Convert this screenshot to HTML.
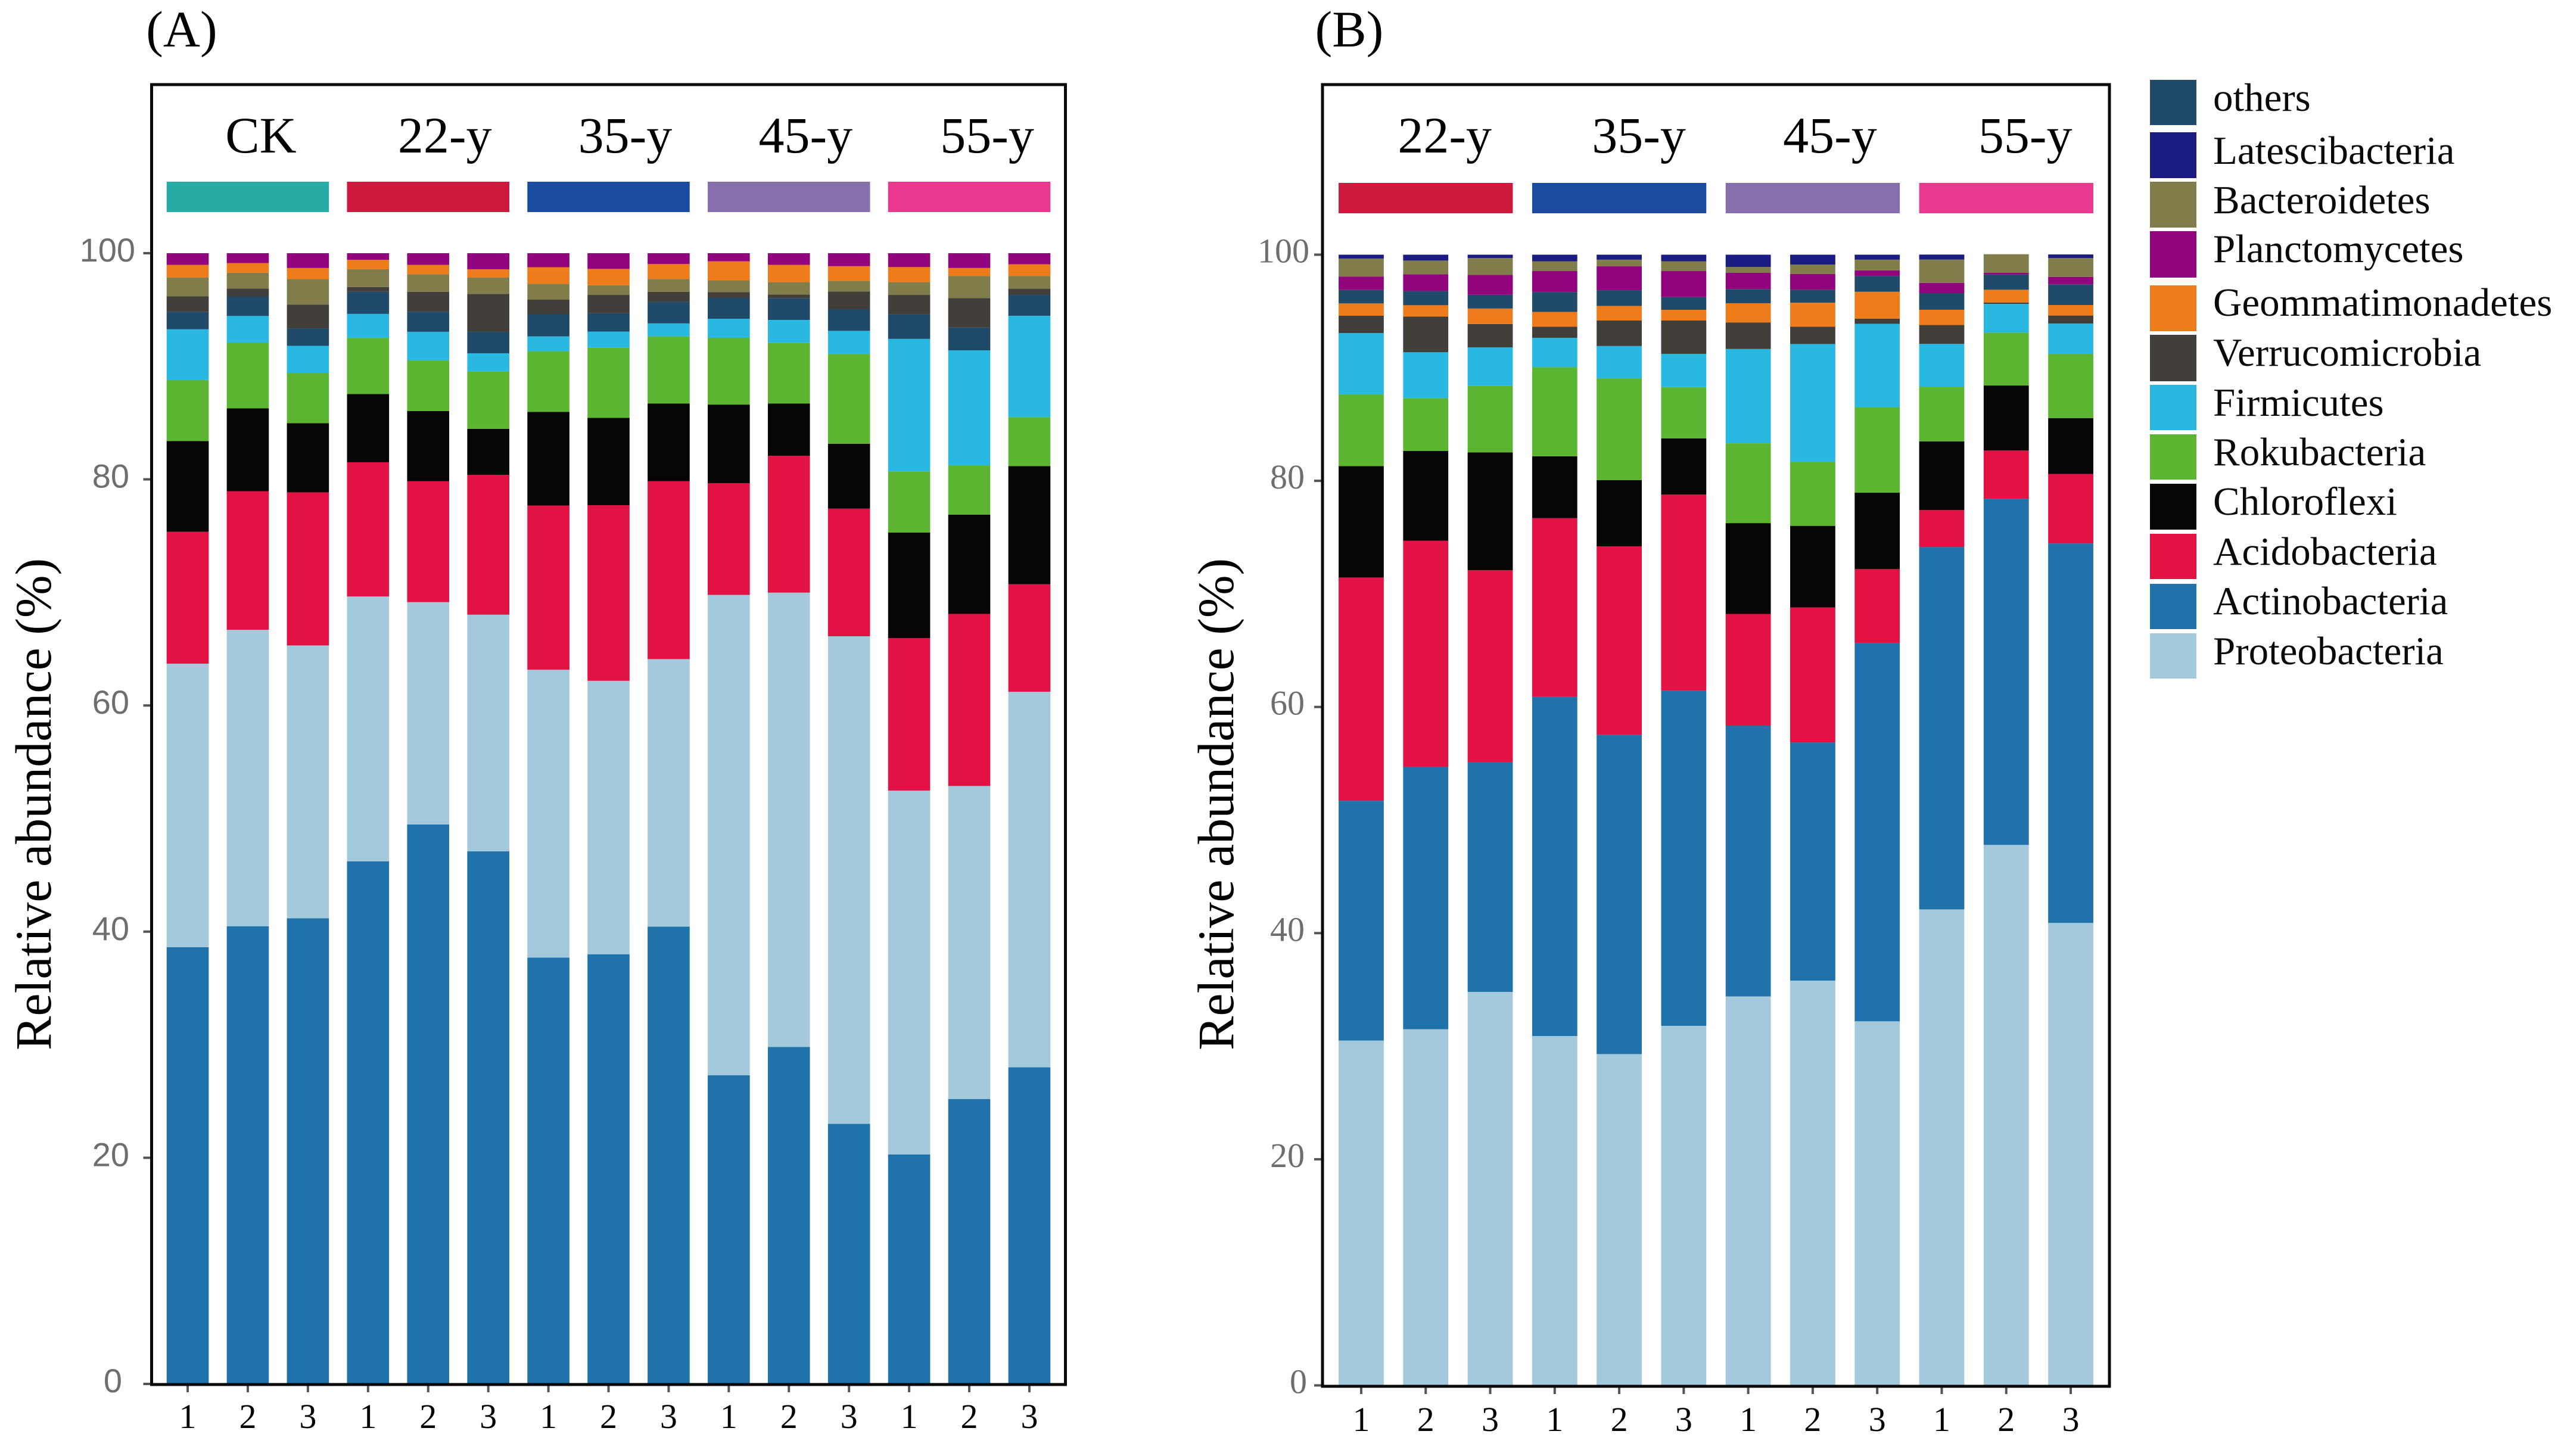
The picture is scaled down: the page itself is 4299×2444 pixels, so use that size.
<!DOCTYPE html>
<html lang="en">
<head>
<meta charset="utf-8">
<title>Relative abundance of bacterial phyla</title>
<style>
html,body{margin:0;padding:0;background:#fff;}
svg{display:block;}
text{font-family:"Liberation Serif",serif;}
</style>
</head>
<body>
<svg id="fig" xmlns="http://www.w3.org/2000/svg" width="4299" height="2444" viewBox="0 0 4299 2444">
  <rect x="0" y="0" width="4299" height="2444" fill="#ffffff"/>
  <text x="305" y="78" font-size="86" text-anchor="middle" fill="#000">(A)</text>
  <text x="2265" y="78" font-size="86" text-anchor="middle" fill="#000">(B)</text>
  <text transform="translate(85,1763) rotate(-90)" font-size="86" fill="#000">Relative abundance (%)</text>
  <text transform="translate(2070,1763) rotate(-90)" font-size="86" fill="#000">Relative abundance (%)</text>
  <g id="panelA"></g>
  <g id="panelB"></g>
  <g font-size="67" fill="#0a0a0a">
    <g><rect x="3609" y="134" width="78" height="76" fill="#204a69"/><text x="3715" y="186">others</text></g>
    <g><rect x="3609" y="222" width="78" height="77" fill="#1b1c82"/><text x="3715" y="275">Latescibacteria</text></g>
    <g><rect x="3609" y="305" width="78" height="77" fill="#807d4a"/><text x="3715" y="358">Bacteroidetes</text></g>
    <g><rect x="3609" y="388" width="78" height="78" fill="#91047e"/><text x="3715" y="440">Planctomycetes</text></g>
    <g><rect x="3609" y="479" width="78" height="77" fill="#ef7c1a"/><text x="3715" y="530">Geommatimonadetes</text></g>
    <g><rect x="3609" y="562" width="78" height="78" fill="#423e39"/><text x="3715" y="614">Verrucomicrobia</text></g>
    <g><rect x="3609" y="646" width="78" height="76" fill="#29b8e2"/><text x="3715" y="698">Firmicutes</text></g>
    <g><rect x="3609" y="729" width="78" height="76" fill="#5cb531"/><text x="3715" y="781">Rokubacteria</text></g>
    <g><rect x="3609" y="812" width="78" height="77" fill="#070604"/><text x="3715" y="864">Chloroflexi</text></g>
    <g><rect x="3609" y="896" width="78" height="76" fill="#e21344"/><text x="3715" y="948">Acidobacteria</text></g>
    <g><rect x="3609" y="980" width="78" height="76" fill="#1f72aa"/><text x="3715" y="1031">Actinobacteria</text></g>
    <g><rect x="3609" y="1063" width="78" height="76" fill="#a4c9dc"/><text x="3715" y="1115">Proteobacteria</text></g>
  </g>
</svg>
<script>
// Panel A (bottom of stack first)
const samplesA = ["1","2","3","1","2","3","1","2","3","1","2","3","1","2","3"];
const groupsA = ["CK","22-y","35-y","45-y","55-y"];
const actinoA = [38.63,40.48,41.18,46.22,49.48,47.10,37.70,38.00,40.44,27.30,29.80,23.00,20.30,25.20,28.00];
const proteoA = [25.07,26.21,24.13,23.42,19.66,20.93,25.46,24.18,23.66,42.48,40.18,43.12,32.17,27.68,33.21];
const acidoA = [11.66,12.26,13.54,11.87,10.69,12.37,14.52,15.53,15.73,9.88,12.10,11.29,13.48,15.22,9.51];
const chloroA = [8.03,7.33,6.12,6.04,6.21,4.06,8.29,7.73,6.88,6.95,4.63,5.74,9.34,8.77,10.45];
const rokuA = [5.40,5.79,4.44,4.96,4.48,5.06,5.36,6.19,5.93,5.91,5.35,7.94,5.41,4.37,4.33];
const firmiA = [4.48,2.38,2.40,2.12,2.53,1.63,1.31,1.44,1.15,1.68,2.04,2.04,11.72,10.17,8.96];
const othersA = [1.55,1.73,1.53,1.96,1.77,1.90,1.96,1.63,1.92,1.85,1.93,1.89,2.16,2.02,1.85];
const verruA = [1.36,0.70,2.12,0.42,1.77,3.35,1.29,1.61,0.87,0.51,0.32,1.58,1.73,2.60,0.55];
const bacteA = [1.68,1.39,2.25,1.57,1.55,1.46,1.40,0.85,1.14,1.04,1.09,0.96,1.13,1.96,1.13];
const geomA = [1.11,0.86,0.98,0.83,0.83,0.72,1.47,1.45,1.32,1.68,1.53,1.29,1.33,0.70,1.03];
const planctA = [1.03,0.87,1.31,0.59,1.03,1.42,1.24,1.39,0.96,0.72,1.03,1.15,1.23,1.31,0.98];

// Panel B (bottom of stack first)
const samplesB = ["1","2","3","1","2","3","1","2","3","1","2","3"];
const groupsB = ["22-y","35-y","45-y","55-y"];
const proteoB = [30.50,31.50,34.80,30.90,29.30,31.80,34.40,35.80,32.20,42.10,47.80,40.90];
const actinoB = [21.20,23.19,20.29,30.00,28.24,29.64,23.95,21.07,33.44,32.05,30.62,33.56];
const acidoB = [19.75,20.02,17.00,15.80,16.67,17.34,9.88,11.93,6.55,3.26,4.26,6.15];
const chloroB = [9.85,7.93,10.42,5.47,5.85,4.97,8.03,7.22,6.76,6.08,5.75,4.94];
const rokuB = [6.35,4.67,5.88,7.87,9.00,4.54,7.06,5.65,7.56,4.84,4.68,5.68];
const firmiB = [5.42,4.06,3.41,2.60,2.86,2.94,8.34,10.43,7.38,3.78,2.54,2.68];
const verruB = [1.53,3.15,2.07,0.99,2.26,2.95,2.35,1.53,0.45,1.67,0.12,0.71];
const geomB = [1.09,1.01,1.37,1.31,1.29,0.94,1.70,2.12,2.38,1.35,1.13,0.93];
const othersB = [1.19,1.25,1.21,1.76,1.39,1.13,1.25,1.15,1.39,1.47,1.35,1.83];
const planctB = [1.17,1.49,1.76,1.85,2.11,2.30,1.45,1.39,0.50,0.91,0.16,0.65];
const bacteB = [1.61,1.21,1.49,0.87,0.59,0.87,0.50,0.84,0.95,2.06,1.63,1.67];
const lateB = [0.34,0.52,0.30,0.58,0.44,0.58,1.09,0.87,0.44,0.44,0.00,0.32];

const yTickValues = [0,20,40,60,80,100];
const yTickLabels = ["0","20","40","60","80","100"];

const NS = "http://www.w3.org/2000/svg";
const phylumColor = {
  others:"#204a69", latescibacteria:"#1b1c82", bacteroidetes:"#807d4a", planctomycetes:"#91047e",
  geommatimonadetes:"#ef7c1a", verrucomicrobia:"#423e39", firmicutes:"#29b8e2", rokubacteria:"#5cb531",
  chloroflexi:"#070604", acidobacteria:"#e21344", actinobacteria:"#1f72aa", proteobacteria:"#a4c9dc"
};
const groupColor = {"CK":"#26aca4","22-y":"#cd1a3c","35-y":"#1c4c9f","45-y":"#876fae","55-y":"#e9398e"};

function drawPanel(cfg){
  const root = document.getElementById(cfg.id);
  const unit = cfg.frameW / (cfg.samples.length + 0.2);
  const xPos = function(i){ return cfg.frameX + unit * (i + 0.6); };
  const yPos = function(v){ return cfg.zeroY - v * cfg.pxPerUnit; };
  const barW = unit * 0.7;

  // stacked bars
  for (let i = 0; i < cfg.samples.length; i++) {
    let base = 0;
    for (const s of cfg.stack) {
      const value = s.values[i];
      const r = document.createElementNS(NS, "rect");
      r.setAttribute("x", (xPos(i) - barW / 2).toFixed(2));
      r.setAttribute("y", yPos(base + value).toFixed(2));
      r.setAttribute("width", barW.toFixed(2));
      r.setAttribute("height", (value * cfg.pxPerUnit).toFixed(2));
      r.setAttribute("fill", phylumColor[s.name]);
      
      
      root.appendChild(r);
      base += value;
    }
  }

  // group strips and labels
  cfg.groups.forEach(function(g, k){
    const first = k * 3;
    const last = first + 2;
    const strip = document.createElementNS(NS, "rect");
    strip.setAttribute("x", (xPos(first) - barW / 2).toFixed(2));
    strip.setAttribute("y", cfg.stripY);
    strip.setAttribute("width", (xPos(last) - xPos(first) + barW).toFixed(2));
    strip.setAttribute("height", 51);
    strip.setAttribute("fill", groupColor[g]);
    
    
    root.appendChild(strip);
    const label = document.createElementNS(NS, "text");
    label.setAttribute("x", (xPos(first + 1) + cfg.groupLabelDx[k]).toFixed(2));
    label.setAttribute("y", 256);
    label.setAttribute("font-size", 86);
    label.setAttribute("text-anchor", "middle");
    label.setAttribute("fill", "#000");
    
    
    label.textContent = g;
    root.appendChild(label);
  });

  // y ticks
  yTickValues.forEach(function(v, k){
    const tick = document.createElementNS(NS, "rect");
    tick.setAttribute("x", cfg.frameX - 14);
    tick.setAttribute("y", (yPos(v) - 2).toFixed(2));
    tick.setAttribute("width", 14);
    tick.setAttribute("height", 4);
    tick.setAttribute("fill", "#555");
    
    
    root.appendChild(tick);
    const t = document.createElementNS(NS, "text");
    const shift = v === 100 ? cfg.hundredDx : (v === 0 ? cfg.zeroDx : 0);
    t.setAttribute("x", cfg.tickRight + shift);
    t.setAttribute("y", (yPos(v) + cfg.tickBaseline).toFixed(2));
    t.setAttribute("font-size", cfg.tickSize);
    t.setAttribute("text-anchor", "end");
    t.setAttribute("fill", "#6e6e6e");
    t.setAttribute("style", "font-family:" + cfg.tickFont);
    
    
    t.textContent = yTickLabels[k];
    root.appendChild(t);
  });

  // x ticks
  cfg.samples.forEach(function(s, i){
    const tick = document.createElementNS(NS, "rect");
    tick.setAttribute("x", (xPos(i) - 2).toFixed(2));
    tick.setAttribute("y", cfg.frameY + cfg.frameH);
    tick.setAttribute("width", 4);
    tick.setAttribute("height", 13);
    tick.setAttribute("fill", "#555");
    
    
    root.appendChild(tick);
    const t = document.createElementNS(NS, "text");
    t.setAttribute("x", xPos(i).toFixed(2));
    t.setAttribute("y", cfg.xLabelY);
    t.setAttribute("font-size", 58);
    t.setAttribute("text-anchor", "middle");
    t.setAttribute("fill", "#000");
    
    
    t.textContent = s;
    root.appendChild(t);
  });

  // frame
  const frame = document.createElementNS(NS, "rect");
  frame.setAttribute("x", cfg.frameX);
  frame.setAttribute("y", cfg.frameY);
  frame.setAttribute("width", cfg.frameW);
  frame.setAttribute("height", cfg.frameH);
  frame.setAttribute("fill", "none");
  frame.setAttribute("stroke", "#0a0a0a");
  frame.setAttribute("stroke-width", 5);
  
  
  root.appendChild(frame);
}

drawPanel({
  id:"panelA", samples:samplesA, groups:groupsA,
  frameX:254.5, frameY:142, frameW:1534, frameH:2182,
  zeroY:2323, pxPerUnit:18.98, stripY:305, xLabelY:2397,
  groupLabelDx:[22,28,28,28,30],
  tickRight:217, hundredDx:10, zeroDx:-12, tickBaseline:14, tickSize:56,
  tickFont:'"Liberation Sans",sans-serif',
  stack:[
    {name:"actinobacteria",values:actinoA},{name:"proteobacteria",values:proteoA},{name:"acidobacteria",values:acidoA},
    {name:"chloroflexi",values:chloroA},{name:"rokubacteria",values:rokuA},{name:"firmicutes",values:firmiA},
    {name:"others",values:othersA},{name:"verrucomicrobia",values:verruA},{name:"bacteroidetes",values:bacteA},
    {name:"geommatimonadetes",values:geomA},{name:"planctomycetes",values:planctA}
  ]
});

drawPanel({
  id:"panelB", samples:samplesB, groups:groupsB,
  frameX:2220, frameY:142, frameW:1321, frameH:2185,
  zeroY:2325.5, pxPerUnit:18.98, stripY:307, xLabelY:2402,
  groupLabelDx:[32,33,29,32],
  tickRight:2190, hundredDx:8, zeroDx:4, tickBaseline:13, tickSize:58,
  tickFont:'"Liberation Serif",serif',
  stack:[
    {name:"proteobacteria",values:proteoB},{name:"actinobacteria",values:actinoB},{name:"acidobacteria",values:acidoB},
    {name:"chloroflexi",values:chloroB},{name:"rokubacteria",values:rokuB},{name:"firmicutes",values:firmiB},
    {name:"verrucomicrobia",values:verruB},{name:"geommatimonadetes",values:geomB},{name:"others",values:othersB},
    {name:"planctomycetes",values:planctB},{name:"bacteroidetes",values:bacteB},{name:"latescibacteria",values:lateB}
  ]
});
</script>
</body>
</html>
